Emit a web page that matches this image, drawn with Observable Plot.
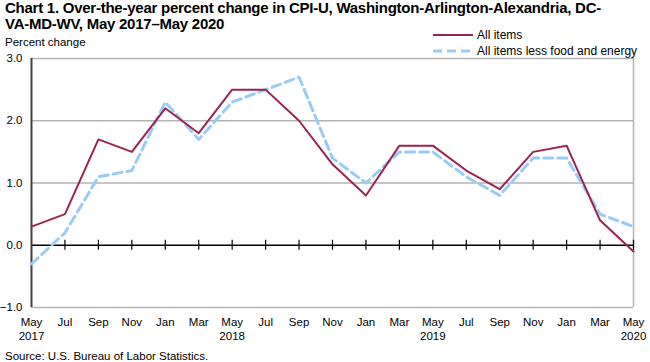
<!DOCTYPE html>
<html>
<head>
<meta charset="utf-8">
<script src="https://cdn.jsdelivr.net/npm/d3@7"></script>
<script src="https://cdn.jsdelivr.net/npm/@observablehq/plot@0.6"></script>
<style>
  body { margin: 0; background: #fff; }
  #wrap { position: relative; width: 650px; height: 362px; font-family: "Liberation Sans", Arial, sans-serif; color: #000; }
  #title { position: absolute; left: 5px; top: 0px; font-weight: bold; font-size: 15px; line-height: 16px; letter-spacing: -0.25px; width: 645px; white-space: nowrap; }
  #ylab { position: absolute; left: 5px; top: 36px; font-size: 11.5px; }
  #legend { position: absolute; left: 433px; top: 27px; font-size: 12px; }
  #legend .row { display: flex; align-items: center; height: 16px; }
  #legend svg { margin-right: 4px; }
  #source { position: absolute; left: 5px; top: 350px; font-size: 11.5px; }
  #chart { position: absolute; left: 0; top: 0; }
</style>
</head>
<body>
<div id="wrap">
  <div id="chart"></div>
  <div id="title">Chart 1. Over-the-year percent change in CPI-U, Washington-Arlington-Alexandria, DC-<br>VA-MD-WV, May 2017–May 2020</div>
  <div id="ylab">Percent change</div>
  <div id="legend"></div>
  <div id="source">Source: U.S. Bureau of Labor Statistics.</div>
</div>
<script>
const months = ["May","Jul","Sep","Nov","Jan","Mar","May","Jul","Sep","Nov","Jan","Mar","May","Jul","Sep","Nov","Jan","Mar","May"];
const years  = ["2017","","","","","","2018","","","","","","2019","","","","","","2020"];
const allItems  = [0.3, 0.5, 1.7, 1.5, 2.2, 1.8, 2.5, 2.5, 2.0, 1.3, 0.8, 1.6, 1.6, 1.2, 0.9, 1.5, 1.6, 0.4, -0.1];
const coreItems = [-0.3, 0.2, 1.1, 1.2, 2.3, 1.7, 2.3, 2.5, 2.7, 1.4, 1.0, 1.5, 1.5, 1.1, 0.8, 1.4, 1.4, 0.5, 0.3];
const yTicks = [-1, 0, 1, 2, 3];
const seriesNames = ["All items", "All items less food and energy"];
const colors = ["#9b2353", "#99ccf5"];

const idx = months.map((_, i) => i);
const label = i => months[i] + (years[i] ? "\n" + years[i] : "");
const rowsAll = idx.map(i => ({i, v: allItems[i]}));
const rowsCore = idx.map(i => ({i, v: coreItems[i]}));

const W = 650, H = 362, mt = 58, mb = 55, ml = 31, mr = 17;
const pxPerUnit = (H - mt - mb) / (yTicks[yTicks.length-1] - yTicks[0]);
const tk = 5 / pxPerUnit;

const plot = Plot.plot({
  width: W, height: H,
  marginTop: mt, marginBottom: mb, marginLeft: ml, marginRight: mr,
  style: {fontFamily: "'Liberation Sans', Arial, sans-serif", fontSize: "11.5px", color: "#000", background: "transparent"},
  x: {type: "point", domain: idx, padding: 0, round: false},
  y: {domain: [yTicks[0], yTicks[yTicks.length-1]]},
  marks: [
    Plot.ruleY(yTicks.filter(t => t !== 0), {stroke: "#b3b3b3", strokeWidth: 1.5}),
    Plot.ruleX([idx[idx.length-1]], {stroke: "#b3b3b3", strokeWidth: 1.5}),
    Plot.ruleY([0], {stroke: "#000", strokeWidth: 1.5}),
    Plot.ruleX(idx.slice(1), {x: d => d, y1: -tk, y2: tk, stroke: "#000", strokeWidth: 1.2}),
    Plot.ruleX([0], {stroke: "#404040", strokeWidth: 2}),
    Plot.line(rowsCore, {x: "i", y: "v", stroke: colors[1], strokeWidth: 3, strokeDasharray: "9,5"}),
    Plot.line(rowsAll, {x: "i", y: "v", stroke: colors[0], strokeWidth: 2}),
    Plot.axisY(yTicks, {tickSize: 0, tickPadding: 9, tickFormat: d3.format(".1f"), label: null}),
    Plot.axisX(idx, {tickSize: 0, tickPadding: 9, tickFormat: label, label: null, lineHeight: 1.2})
  ]
});
document.getElementById("chart").appendChild(plot);

const leg = document.getElementById("legend");
seriesNames.forEach((name, k) => {
  const row = document.createElement("div");
  row.className = "row";
  row.innerHTML = `<svg width="40" height="6"><line x1="0" x2="40" y1="3" y2="3" stroke="${colors[k]}" stroke-width="${k ? 3 : 2}" ${k ? 'stroke-dasharray="9,5"' : ''}/></svg><span>${name}</span>`;
  leg.appendChild(row);
});
</script>
</body>
</html>
